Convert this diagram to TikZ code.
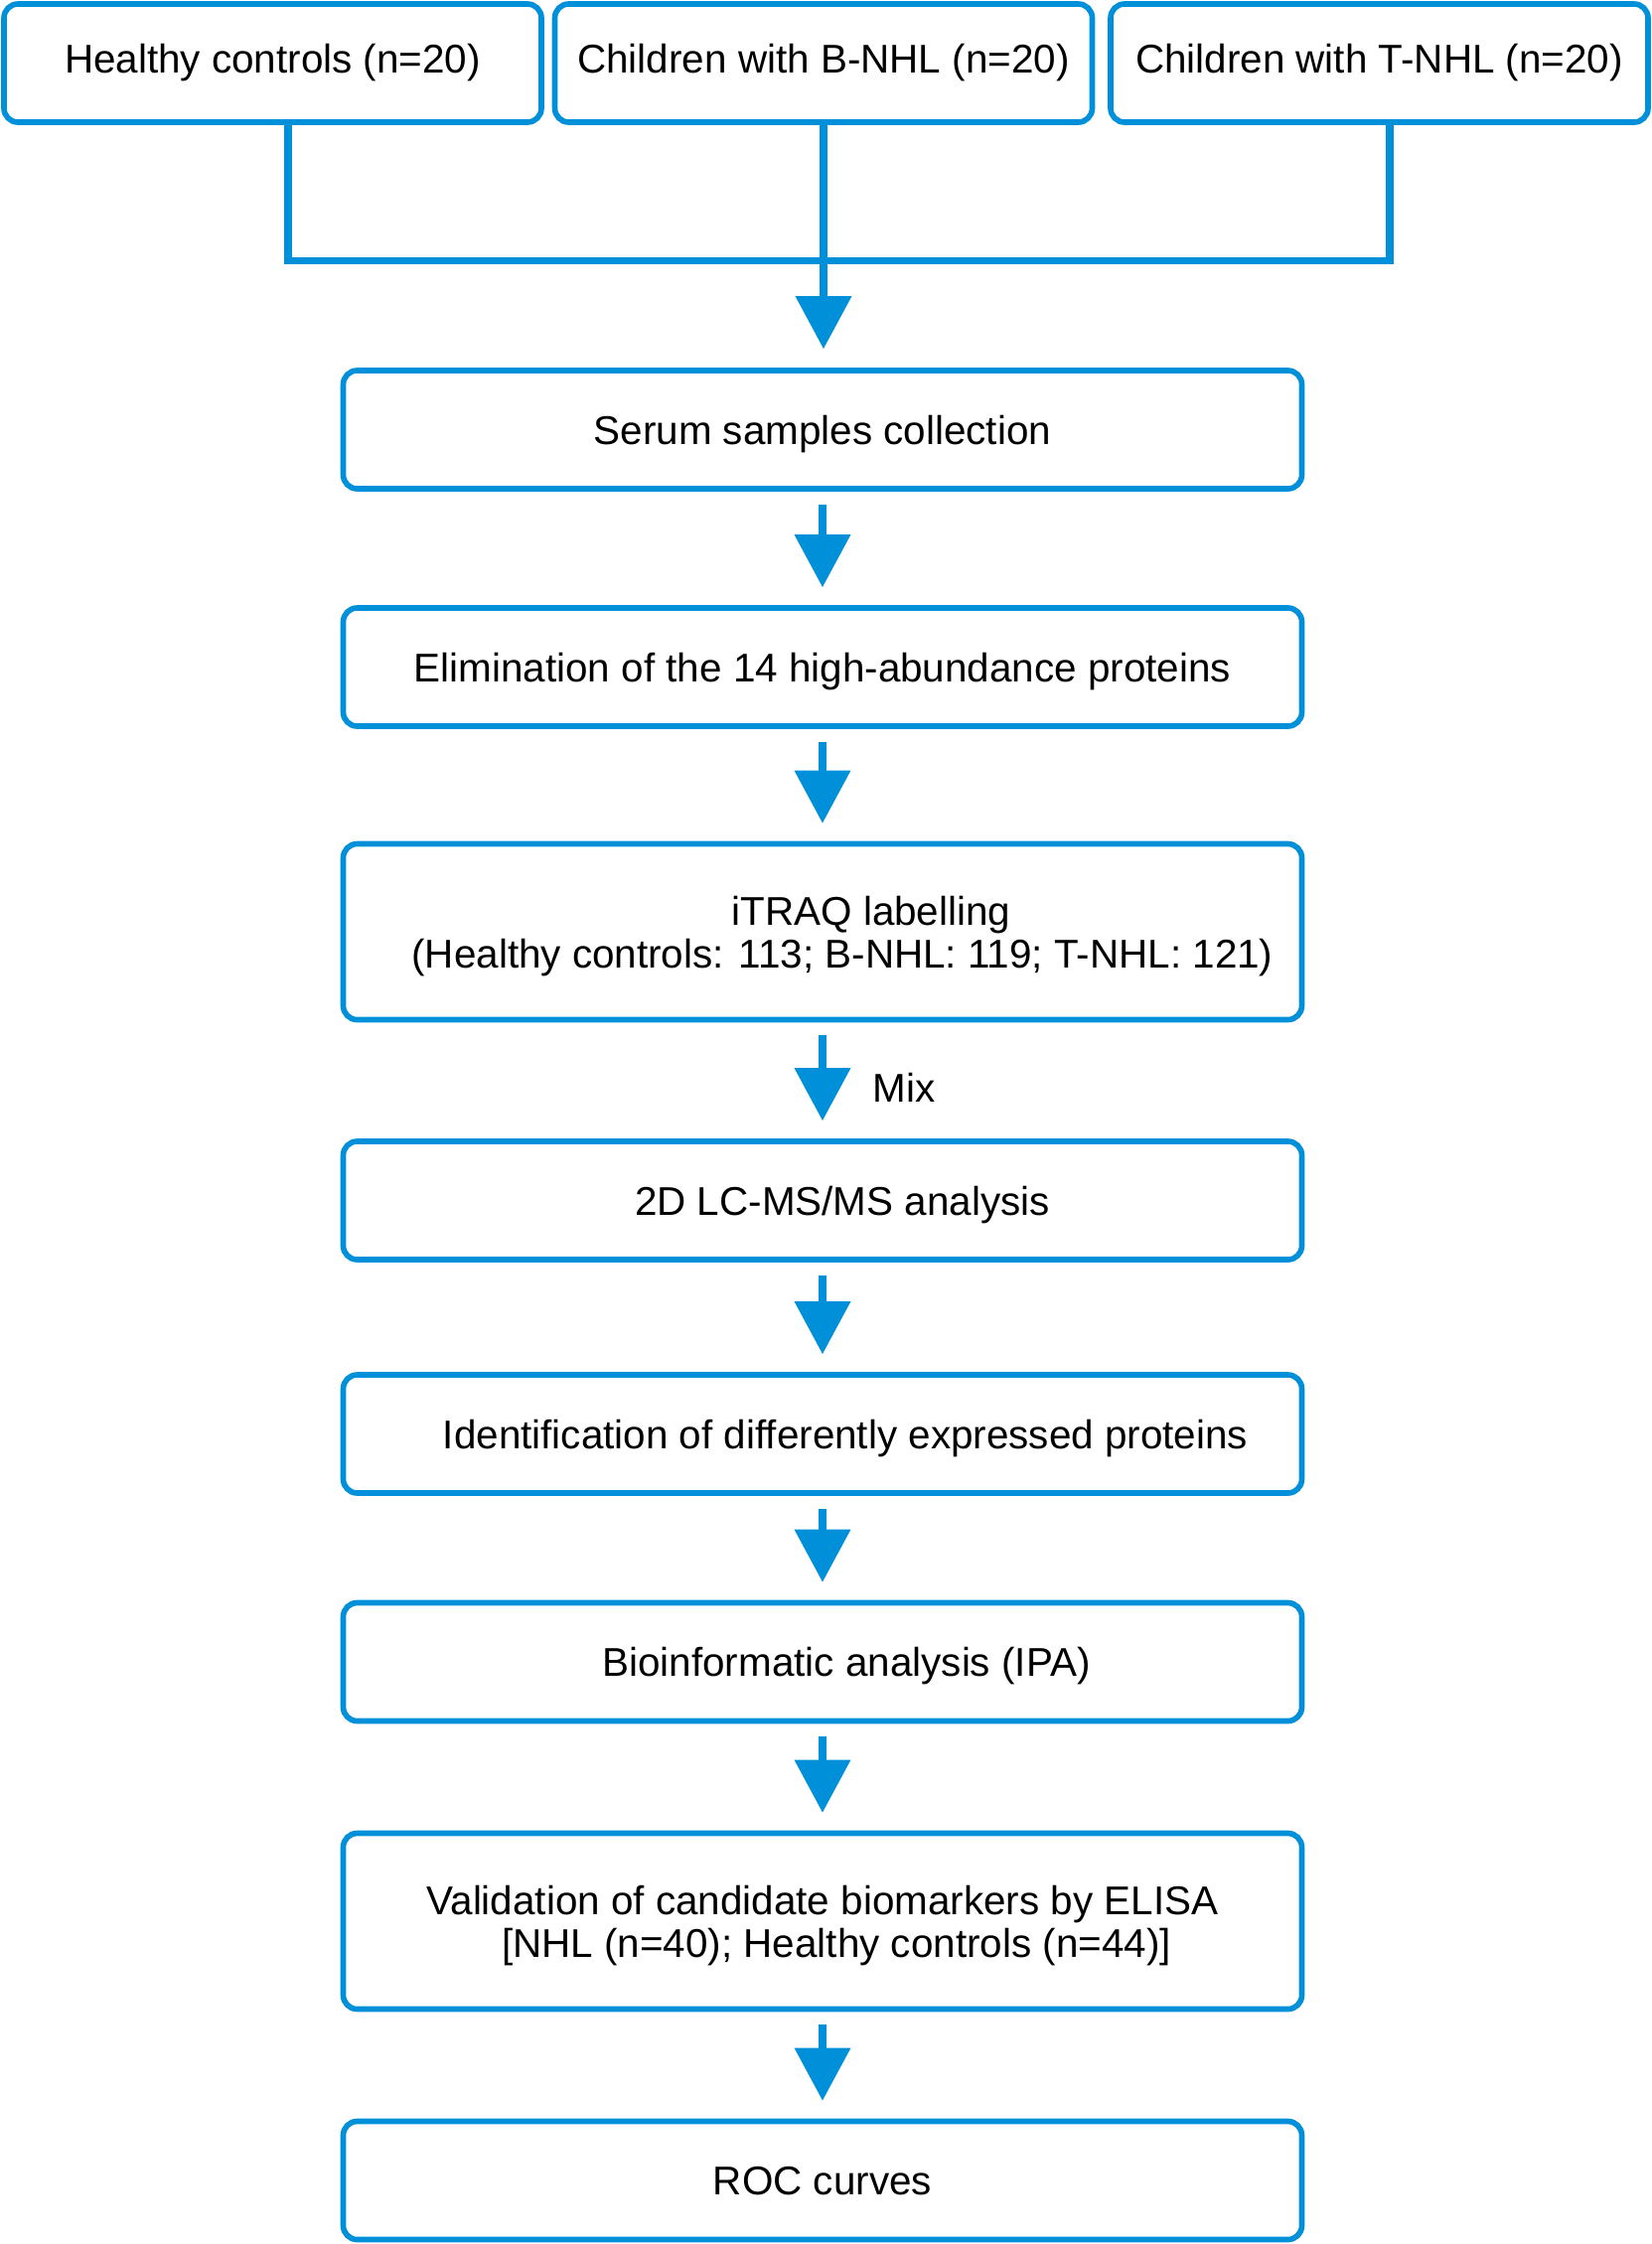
\documentclass[tikz,border=0pt]{standalone}
\usepackage{fontspec}
\setmainfont{Liberation Sans}
\usetikzlibrary{arrows.meta}
\definecolor{flowblue}{RGB}{0,144,218}

\begin{document}
\begin{tikzpicture}[
  box/.style={draw=flowblue, line width=1.6pt, rounded corners=0.14cm, minimum width=9.65cm, minimum height=1.19cm, align=center, inner sep=0pt, text=black, font=\fontsize{11.5}{12.2}\selectfont},
  stepbox/.style={box, text depth=0pt},
  tallbox/.style={stepbox, minimum height=1.77cm},
  topbox/.style={box, minimum width=5.41cm},
  link/.style={draw=flowblue, line width=2pt},
  flow/.style={link, -{Triangle[width=0.55cm,length=0.53cm]}, shorten <=0.13cm, shorten >=0.18cm}
]
\useasboundingbox (0,0) rectangle (16.63,-22.59);

% the three groups
\node[topbox] (hc) at (2.745,-0.635) {Healthy controls (n=20)};
\node[topbox] (bn) at (8.29,-0.635) {Children with B-NHL (n=20)};
\node[topbox] (tn) at (13.885,-0.635) {Children with T-NHL (n=20)};

% workflow
\node[stepbox] (serum) at (8.28,-4.325) {Serum samples collection};
\node[stepbox] (elim) at (8.28,-6.715) {Elimination of the 14 high-abundance proteins};
\node[tallbox] (itraq) at (8.28,-9.38) {\hspace*{0.98cm}iTRAQ labelling\\\hspace*{0.4cm}(Healthy controls: 113; B-NHL: 119; T-NHL: 121)};
\node[stepbox] (lcms) at (8.28,-12.085) {\hspace*{0.4cm}2D LC-MS/MS analysis};
\node[stepbox] (ident) at (8.28,-14.435) {\hspace*{0.46cm}Identification of differently expressed proteins};
\node[stepbox] (ipa) at (8.28,-16.73) {\hspace*{0.48cm}Bioinformatic analysis (IPA)};
\node[tallbox] (elisa) at (8.28,-19.34) {Validation of candidate biomarkers by ELISA\\\hspace*{0.28cm}[NHL (n=40); Healthy controls (n=44)]};
\node[stepbox] (roc) at (8.28,-21.95) {ROC curves};

\coordinate (join) at (8.29,-2.62);
\draw[link] ([xshift=0.155cm]hc.south) |- (join) -| ([xshift=0.105cm]tn.south);
\draw[flow, shorten <=0pt, shorten >=0.19cm] (bn.south) -- (bn.south |- serum.north);

\draw[flow] (serum) -- (elim);
\draw[flow] (elim) -- (itraq);
\draw[flow] (itraq) -- (lcms);
\draw[flow] (lcms) -- (ident);
\draw[flow] (ident) -- (ipa);
\draw[flow] (ipa) -- (elisa);
\draw[flow] (elisa) -- (roc);

\node[anchor=west, font=\fontsize{11.5}{12.2}\selectfont] (mix) at (8.66,-10.95) {Mix};

\end{tikzpicture}
\end{document}
